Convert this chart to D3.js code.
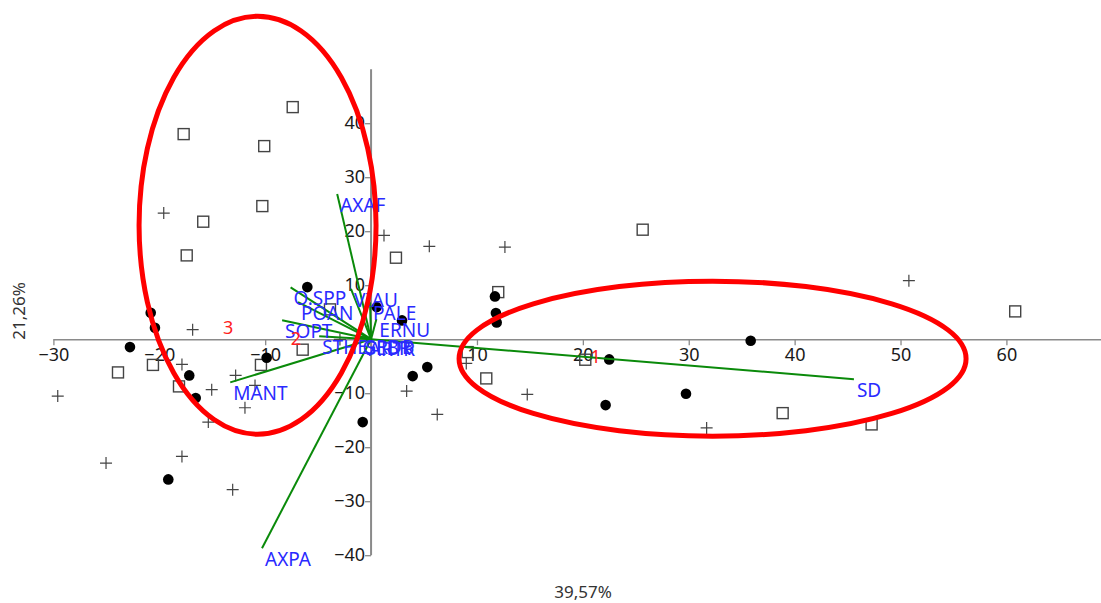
<!DOCTYPE html>
<html>
<head>
<meta charset="utf-8">
<script src="https://cdn.jsdelivr.net/npm/d3@7"></script>
<style>
  html, body { margin: 0; padding: 0; background: #fff; }
  svg { display: block; }
  text { font-family: "Noto Sans", "Open Sans", sans-serif; }
</style>
</head>
<body>
<svg id="chart" width="1101" height="603"></svg>
<script>
// ---------- data ----------
const xTicks = [-30, -20, -10, 10, 20, 30, 40, 50, 60];
const yTicks = [40, 30, 20, 10, -10, -20, -30, -40];
const xTitle = "39,57%";
const yTitle = "21,26%";

// group A (open squares)
const squareX = [-7.40, -17.70, -10.09, -10.27, -15.85, -17.41, 2.35, 25.65, 12.01, -6.46, -10.40, -20.60, -23.90, -18.14, 10.88, 20.23, 38.87, 47.27, 60.83, 9.12, -3.88];
const squareY = [42.98, 37.98, 35.76, 24.65, 21.76, 15.52, 15.09, 20.28, 8.72, -1.94, -4.76, -4.76, -6.15, -8.74, -7.26, -3.80, -13.69, -15.78, 5.15, -2.39, 5.52];

// group B (filled dots)
const dotX = [-6.02, -20.81, -20.41, -22.77, -9.86, -17.17, -16.56, -19.15, -0.79, 0.53, 2.92, 5.31, 3.93, 11.70, 11.79, 11.86, 22.49, 22.15, 29.74, 35.85];
const dotY = [9.65, 4.91, 2.13, -1.46, -3.43, -6.70, -10.91, -25.96, -15.35, 5.94, 3.48, -5.17, -6.83, 7.93, 4.83, 3.11, -3.74, -12.20, -10.09, -0.28];

// group C (plus signs)
const plusX = [-19.58, 1.22, 5.50, 12.64, 50.79, -16.85, -2.94, -17.86, -12.79, -15.05, -10.96, -11.91, -15.37, -17.86, -25.03, -29.59, -13.07, 3.36, 6.25, 14.75, 31.69, 8.99];
const plusY = [23.35, 19.22, 17.19, 17.06, 10.83, 1.76, -0.04, -4.67, -6.70, -9.35, -8.56, -12.69, -15.35, -21.70, -22.94, -10.54, -27.87, -9.61, -13.93, -10.22, -16.43, -4.48];

// biplot vectors (loadings)
const vecNames = ["AXAF", "AXPA", "SD", "MANT", "O.SPP", "POAN", "SOPT", "VIAU", "PALE", "ERNU", "STHE", "GRDB", "SEBR", "ARTR"];
const vecX = [-3.2, -10.3, 45.6, -13.3, -7.6, -6.9, -8.4, -1.9, -0.1, 0.5, -4.9, -1.1, -0.8, -0.5];
const vecY = [26.9, -38.7, -7.4, -8.0, 9.6, 6.85, 3.5, 9.3, 6.85, 3.7, 0.55, 0.55, 0.4, 0.3];

// group labels (red)
const groupNames = ["1", "2", "3"];
const groupX = [21.2, -7.1, -13.5];
const groupY = [-3.1, 0.2, 2.2];

// highlighted groups (ellipses): centre and radii in data units
const ellCX = [-10.72, 32.25];
const ellCY = [21.1, -3.6];
const ellRX = [11.19, 23.94];
const ellRY = [38.7, 14.35];

// ---------- drawing ----------
const svg = d3.select("#chart");
const x = d3.scaleLinear().domain([-30, 70]).range([53.4, 1112.3]);
const y = d3.scaleLinear().domain([-40, 50]).range([555.2, 69.2]);

const axisColor = "#8a8a8a";
const tickFont = 18;

// x axis
const xAxis = svg.append("g").attr("transform", `translate(0,${y(0)})`)
  .call(d3.axisBottom(x).tickValues(xTicks).tickSize(6).tickPadding(3).tickFormat(d3.format("d")));
xAxis.select(".domain").attr("stroke", axisColor).attr("stroke-width", 1.5).attr("d", `M${x(-30)},0.5H1101`);
xAxis.selectAll(".tick line").attr("stroke", axisColor).attr("stroke-width", 1.3);
xAxis.selectAll(".tick text").attr("fill", "#1a1a1a").style("font-size", tickFont + "px")
  .attr("font-family", "Noto Sans, sans-serif");

// y axis
const yAxis = svg.append("g").attr("transform", `translate(${x(0)},0)`)
  .call(d3.axisLeft(y).tickValues(yTicks).tickSize(6).tickPadding(0).tickFormat(d3.format("d")));
yAxis.select(".domain").attr("stroke", axisColor).attr("stroke-width", 2).attr("d", `M0,${y(50)}V${y(-40)}`);
yAxis.selectAll(".tick line").attr("stroke", axisColor).attr("stroke-width", 1.3);
yAxis.selectAll(".tick text").attr("fill", "#1a1a1a").style("font-size", tickFont + "px")
  .attr("font-family", "Noto Sans, sans-serif");

// axis titles
svg.append("text").attr("x", 583).attr("y", 598).attr("text-anchor", "middle")
  .style("font-size", "17px").attr("fill", "#333").text(xTitle);
svg.append("text").attr("transform", "translate(25,311) rotate(-90)").attr("text-anchor", "middle")
  .style("font-size", "17px").attr("fill", "#333").text(yTitle);

// points
const squares = squareX.map((v, i) => ({x: v, y: squareY[i]}));
const dots = dotX.map((v, i) => ({x: v, y: dotY[i]}));
const pluses = plusX.map((v, i) => ({x: v, y: plusY[i]}));

const sq = 11;
svg.append("g").selectAll("rect").data(squares).join("rect")
  .attr("x", d => x(d.x) - sq / 2).attr("y", d => y(d.y) - sq / 2)
  .attr("width", sq).attr("height", sq)
  .attr("fill", "none").attr("stroke", "#444").attr("stroke-width", 1.4);

svg.append("g").selectAll("path").data(pluses).join("path")
  .attr("d", d => `M${x(d.x) - 6},${y(d.y)}H${x(d.x) + 6}M${x(d.x)},${y(d.y) - 6}V${y(d.y) + 6}`)
  .attr("stroke", "#444").attr("stroke-width", 1.2).attr("fill", "none");

svg.append("g").selectAll("circle").data(dots).join("circle")
  .attr("cx", d => x(d.x)).attr("cy", d => y(d.y)).attr("r", 5.3)
  .attr("fill", "#000");

// vectors
const vecs = vecNames.map((n, i) => ({name: n, x: vecX[i], y: vecY[i]}));
svg.append("g").selectAll("line").data(vecs).join("line")
  .attr("x1", x(0)).attr("y1", y(0))
  .attr("x2", d => x(d.x)).attr("y2", d => y(d.y))
  .attr("stroke", "#0a8a0a").attr("stroke-width", 2);

svg.append("g").selectAll("text").data(vecs).join("text")
  .attr("x", d => x(d.x) + 3).attr("y", d => y(d.y) + 18)
  .style("font-size", "19px").attr("fill", "#2a2aff").text(d => d.name);

// group labels
svg.append("g").selectAll("text").data(groupNames.map((g, i) => ({g, x: groupX[i], y: groupY[i]}))).join("text")
  .attr("x", d => x(d.x)).attr("y", d => y(d.y) + 7).attr("text-anchor", "middle")
  .style("font-size", "18px").attr("fill", "#ff2020").text(d => d.g);

// ellipses
const ells = ellCX.map((c, i) => ({cx: c, cy: ellCY[i], rx: ellRX[i], ry: ellRY[i]}));
svg.append("g").selectAll("ellipse").data(ells).join("ellipse")
  .attr("cx", d => x(d.cx)).attr("cy", d => y(d.cy))
  .attr("rx", d => x(d.cx + d.rx) - x(d.cx)).attr("ry", d => y(d.cy) - y(d.cy + d.ry))
  .attr("fill", "none").attr("stroke", "#ff0000").attr("stroke-width", 5);
</script>
</body>
</html>
